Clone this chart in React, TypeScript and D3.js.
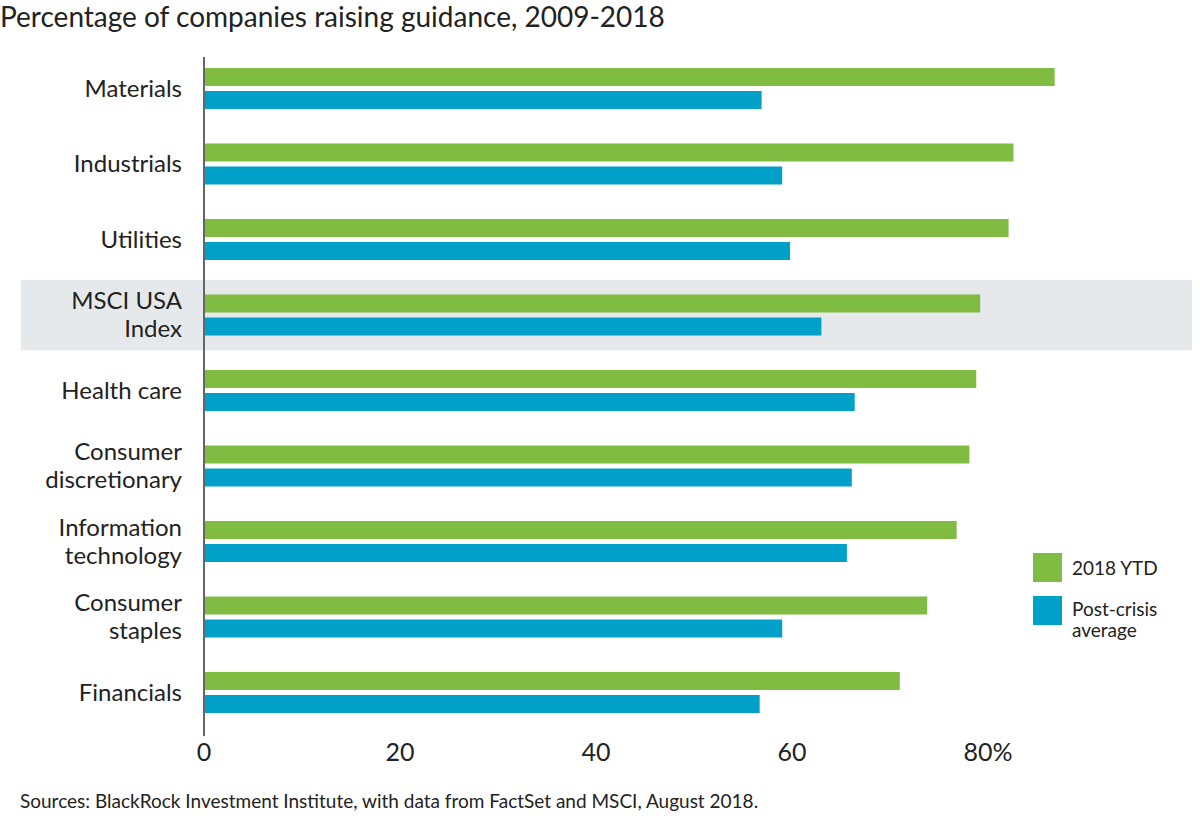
import * as d3 from "d3";

const categories = [
  ["Materials"],
  ["Industrials"],
  ["Utilities"],
  ["MSCI USA", "Index"],
  ["Health care"],
  ["Consumer", "discretionary"],
  ["Information", "technology"],
  ["Consumer", "staples"],
  ["Financials"],
];
const ytd2018 = [86.8, 82.6, 82.1, 79.2, 78.8, 78.1, 76.8, 73.8, 71.0];
const postCrisis = [56.9, 59.0, 59.8, 63.0, 66.4, 66.1, 65.6, 59.0, 56.7];
const ticks = [0, 20, 40, 60, 80];
const highlighted = "MSCI USA Index";

const GREEN = "#80bc41";
const BLUE = "#00a0c8";
const FONT = "Lato, 'Open Sans', sans-serif";

export default function App() {
  const W = 1200, H = 820;
  const names = categories.map((c) => c.join(" "));
  const x = d3.scaleLinear().domain([0, 100]).range([204, 1184]);
  const y = d3.scaleBand().domain(names).range([50.75, 730.25]).padding(0);
  const mid = (n: string) => (y(n) ?? 0) + y.bandwidth() / 2;
  const barH = 18, gap = 2.5;

  return (
    <div style={{ position: "absolute", left: 0, top: 0 }}>
      <svg width={W} height={H} style={{ display: "block", fontFamily: FONT }}>
        <rect width={W} height={H} fill="#fff" />
        <text x={0} y={27} fontSize={28} fill="#222">
          Percentage of companies raising guidance, 2009-2018
        </text>

        {/* highlight band */}
        <rect x={21} y={(y(highlighted) ?? 0) + 2.5} width={1171}
          height={y.bandwidth() - 5} fill="#e5e9ec" />

        {names.map((n, i) => (
          <g key={n}>
            <rect x={x(0)} y={mid(n) - gap - barH} width={x(ytd2018[i]) - x(0)}
              height={barH} fill={GREEN} />
            <rect x={x(0)} y={mid(n) + gap} width={x(postCrisis[i]) - x(0)}
              height={barH} fill={BLUE} />
            <text x={182} textAnchor="end" fontSize={24} fill="#222">
              {categories[i].map((line, j) => (
                <tspan key={j} x={182}
                  y={mid(n) + 8 + (j - (categories[i].length - 1) / 2) * 28}>
                  {line}
                </tspan>
              ))}
            </text>
          </g>
        ))}

        <line x1={x(0)} x2={x(0)} y1={57} y2={736} stroke="#666" strokeWidth={2} />

        {ticks.map((t) => (
          <text key={t} x={x(t)} y={761} textAnchor="middle" fontSize={25} fill="#222">
            {t === 80 ? "80%" : t}
          </text>
        ))}

        {/* legend */}
        <rect x={1033} y={553} width={29} height={29} fill={GREEN} />
        <text x={1072} y={575} fontSize={19} fill="#222">2018 YTD</text>
        <rect x={1033} y={596} width={29} height={29} fill={BLUE} />
        <text fontSize={19} fill="#222">
          <tspan x={1072} y={616}>Post-crisis</tspan>
          <tspan x={1072} y={637}>average</tspan>
        </text>

        <text x={20} y={808} fontSize={19} fill="#222">
          Sources: BlackRock Investment Institute, with data from FactSet and MSCI, August 2018.
        </text>
      </svg>
    </div>
  );
}
